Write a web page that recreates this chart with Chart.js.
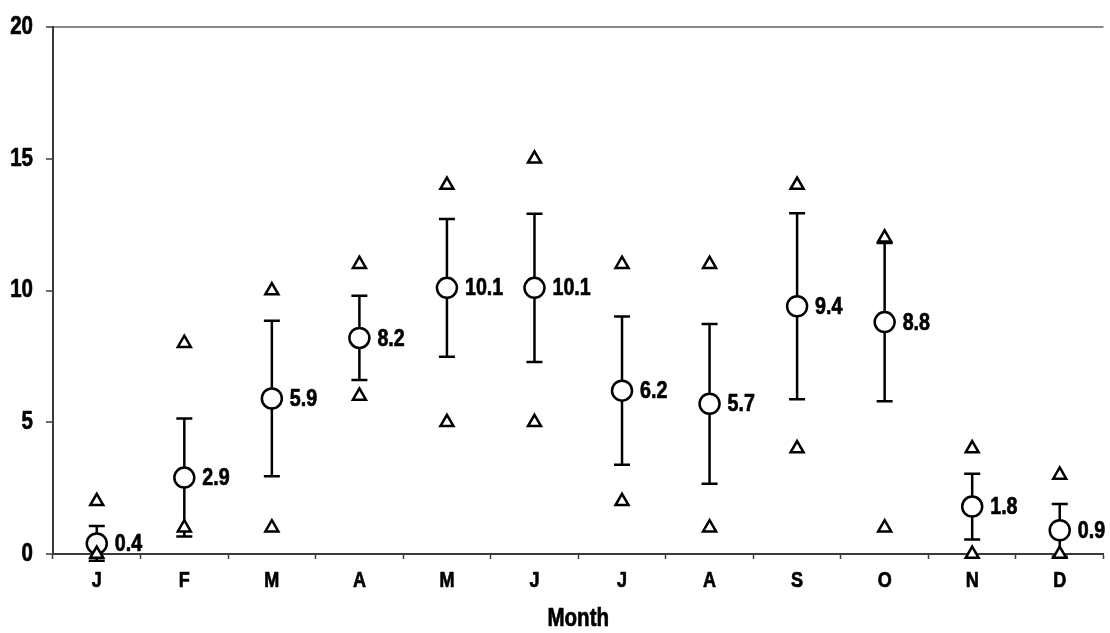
<!DOCTYPE html>
<html>
<head>
<meta charset="utf-8">
<script src="https://cdn.jsdelivr.net/npm/chart.js@4/dist/chart.umd.min.js"></script>
<style>
  html, body { margin: 0; padding: 0; background: #fff; overflow: hidden; }
  #wrap { position: relative; width: 1116px; height: 633px; }
</style>
</head>
<body>
<div id="wrap"><canvas id="chart"></canvas></div>
<script>
// Monthly values: mean with ±SD bars, plus monthly maximum and minimum
const months = ['J', 'F', 'M', 'A', 'M', 'J', 'J', 'A', 'S', 'O', 'N', 'D'];
const meanValues = [0.4, 2.9, 5.9, 8.2, 10.1, 10.1, 6.2, 5.7, 9.4, 8.8, 1.8, 0.9];
const sdValues = [0.66, 2.24, 2.95, 1.6, 2.61, 2.81, 2.81, 3.03, 3.53, 3.0, 1.25, 1.0];
const maxValues = [2, 8, 10, 11, 14, 15, 11, 11, 14, 12, 4, 3];
const minValues = [0, 1, 1, 6, 5, 5, 2, 1, 4, 1, 0, 0];
const yTicks = [0, 5, 10, 15, 20];
const xTitle = 'Month';

const FONT_FAMILY = '"Liberation Sans", Arial, sans-serif';
const AXIS_COLOR = '#3a3a3a';
const CONDENSE = 0.82; // horizontal squeeze giving a narrow bold face
const MARK_WIDTH = 2.5;

// Bold condensed text centred vertically on y
function narrowText(ctx, text, x, y, align, size) {
  ctx.save();
  ctx.font = 'bold ' + size + 'px ' + FONT_FAMILY;
  ctx.fillStyle = '#000';
  ctx.strokeStyle = '#000';
  ctx.lineWidth = 0.7;
  ctx.lineJoin = 'round';
  ctx.textAlign = align;
  ctx.textBaseline = 'middle';
  ctx.translate(x, y);
  ctx.scale(CONDENSE, 1);
  ctx.fillText(text, 0, 0);
  ctx.strokeText(text, 0, 0);
  ctx.restore();
}

function narrowWidth(ctx, text, size) {
  ctx.save();
  ctx.font = 'bold ' + size + 'px ' + FONT_FAMILY;
  const w = ctx.measureText(text).width * CONDENSE;
  ctx.restore();
  return w;
}

// Vertical ±SD whiskers with caps, drawn beneath the markers
const errorBars = {
  id: 'errorBars',
  beforeDatasetsDraw(chart) {
    const { ctx, scales: { x, y } } = chart;
    ctx.save();
    ctx.strokeStyle = '#000';
    ctx.lineWidth = MARK_WIDTH;
    meanValues.forEach((m, i) => {
      const px = x.getPixelForValue(i);
      const top = y.getPixelForValue(m + sdValues[i]);
      const bot = y.getPixelForValue(m - sdValues[i]);
      ctx.beginPath();
      ctx.moveTo(px, top); ctx.lineTo(px, bot);
      ctx.moveTo(px - 8, top); ctx.lineTo(px + 8, top);
      ctx.moveTo(px - 8, bot); ctx.lineTo(px + 8, bot);
      ctx.stroke();
    });
    ctx.restore();
  }
};

// Axis tick labels and axis title in a condensed bold face
const axisText = {
  id: 'axisText',
  afterDraw(chart) {
    const { ctx, chartArea, scales: { x, y } } = chart;
    yTicks.forEach(v => {
      narrowText(ctx, String(v), chartArea.left - 20, y.getPixelForValue(v), 'right', 25);
    });
    months.forEach((m, i) => {
      narrowText(ctx, m, x.getPixelForValue(i), chartArea.bottom + 27, 'center', 22);
    });
    narrowText(ctx, xTitle, (chartArea.left + chartArea.right) / 2, chartArea.bottom + 65, 'center', 25);
  }
};

// Mean value written to the right of each circle, kept inside the canvas
const meanLabels = {
  id: 'meanLabels',
  afterDatasetsDraw(chart) {
    const { ctx, scales: { x, y } } = chart;
    const limit = 1108;
    meanValues.forEach((m, i) => {
      const text = m.toFixed(1);
      const w = narrowWidth(ctx, text, 24);
      let lx = x.getPixelForValue(i) + 18;
      if (lx + w > limit) lx = limit - w;
      narrowText(ctx, text, lx, y.getPixelForValue(m) + 1, 'left', 24);
    });
  }
};

const triangleStyle = {
  showLine: false,
  pointStyle: 'triangle',
  pointRadius: 7.5,
  pointHoverRadius: 7.5,
  pointBackgroundColor: '#fff',
  pointBorderColor: '#000',
  pointBorderWidth: MARK_WIDTH,
  clip: false,
  order: 0
};

new Chart(document.getElementById('chart'), {
  type: 'line',
  data: {
    labels: months,
    datasets: [
      Object.assign({ label: 'Maximum', data: maxValues }, triangleStyle),
      Object.assign({ label: 'Minimum', data: minValues }, triangleStyle),
      {
        label: 'Mean',
        data: meanValues,
        showLine: false,
        pointStyle: 'circle',
        pointRadius: 10,
        pointHoverRadius: 10,
        pointBackgroundColor: '#fff',
        pointBorderColor: '#000',
        pointBorderWidth: MARK_WIDTH,
        clip: false,
        order: 1
      }
    ]
  },
  options: {
    responsive: true,
    maintainAspectRatio: false,
    animation: false,
    events: [],
    layout: { padding: { top: 27, right: 3, bottom: 0, left: 0 } },
    plugins: { legend: { display: false }, tooltip: { enabled: false } },
    scales: {
      x: {
        type: 'category',
        offset: true,
        grid: {
          offset: true,
          drawOnChartArea: false,
          drawTicks: true,
          tickLength: 5,
          tickWidth: 1.5,
          tickColor: AXIS_COLOR
        },
        border: { display: true, color: AXIS_COLOR, width: 2 },
        ticks: { display: false, autoSkip: false, maxRotation: 0 },
        title: { display: false },
        afterFit(scale) { scale.height = 79; }
      },
      y: {
        min: 0,
        max: 20,
        afterBuildTicks(scale) { scale.ticks = yTicks.map(v => ({ value: v })); },
        grid: {
          drawOnChartArea: true,
          drawTicks: true,
          tickLength: 7,
          tickWidth: 1.5,
          tickColor: AXIS_COLOR,
          lineWidth: 2,
          color: ctx => (ctx.tick && ctx.tick.value === 20 ? '#8a8a8a' : 'rgba(0,0,0,0)')
        },
        border: { display: true, color: AXIS_COLOR, width: 2 },
        ticks: { display: false },
        afterFit(scale) { scale.width = 53; }
      }
    }
  },
  plugins: [errorBars, meanLabels, axisText]
});
</script>
</body>
</html>
